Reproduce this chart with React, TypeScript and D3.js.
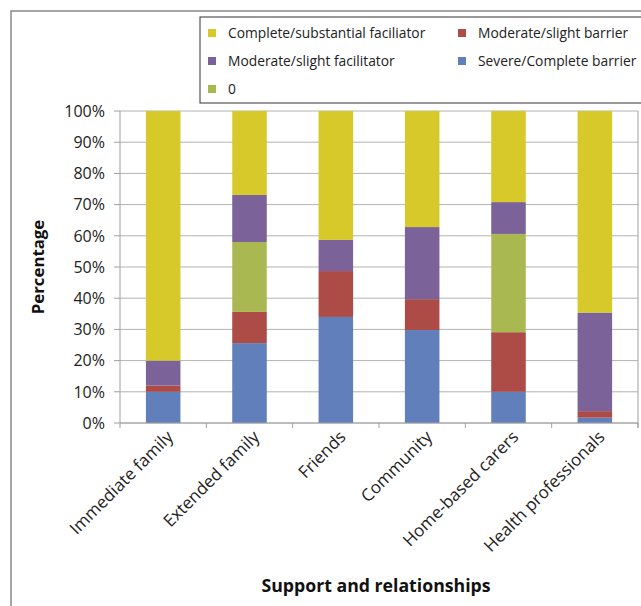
import React from "react";
import * as d3 from "d3";

const categories = [
  "Immediate family",
  "Extended family",
  "Friends",
  "Community",
  "Home-based carers",
  "Health professionals",
];

// stacked bottom -> top
const seriesNames = [
  "Severe/Complete barrier",
  "Moderate/slight barrier",
  "0",
  "Moderate/slight facilitator",
  "Complete/substantial faciliator",
];

const severeBarrier = [10.0, 25.6, 34.0, 29.8, 10.0, 1.7];
const moderateBarrier = [2.0, 10.0, 14.7, 9.9, 19.1, 2.1];
const zeroValues = [0, 22.4, 0, 0, 31.5, 0];
const moderateFacilitator = [8.0, 15.1, 10.0, 23.1, 10.2, 31.6];
const completeFacilitator = [80.0, 26.9, 41.3, 37.2, 29.2, 64.6];

const yTicks = [0, 10, 20, 30, 40, 50, 60, 70, 80, 90, 100];

const colors: Record<string, string> = {
  "Severe/Complete barrier": "#617FBA",
  "Moderate/slight barrier": "#AD4B47",
  "0": "#AAB852",
  "Moderate/slight facilitator": "#7B639A",
  "Complete/substantial faciliator": "#D8C92B",
};

const legendOrder = [
  ["Complete/substantial faciliator", "Moderate/slight barrier"],
  ["Moderate/slight facilitator", "Severe/Complete barrier"],
  ["0"],
];

export default function App() {
  const W = 641;
  const H = 606;
  const left = 120;
  const right = 638;
  const top = 111;
  const bottom = 423;
  const font = "'Open Sans', sans-serif";

  const x = d3.scaleBand<string>().domain(categories).range([left, right]).paddingInner(0.6).paddingOuter(0.3);
  const xOuter = d3.scaleBand<string>().domain(categories).range([left, right]);
  const y = d3.scaleLinear().domain([0, 100]).range([bottom, top]);

  const rows = categories.map((c, i) => ({
    cat: c,
    "Severe/Complete barrier": severeBarrier[i],
    "Moderate/slight barrier": moderateBarrier[i],
    "0": zeroValues[i],
    "Moderate/slight facilitator": moderateFacilitator[i],
    "Complete/substantial faciliator": completeFacilitator[i],
  }));
  const stack = d3.stack<any>().keys(seriesNames)(rows);

  const boundaries = categories.map((c) => xOuter(c)!).concat([right]);

  return (
    <svg width={W} height={H} style={{ position: "absolute", left: 0, top: 0 }} fontFamily={font}>
      <rect x={0} y={0} width={W} height={H} fill="#fff" />
      <rect x={11} y={11} width={W + 20} height={H + 20} fill="none" stroke="#888" strokeWidth={1.5} />
      {/* gridlines */}
      {yTicks.map((t) => (
        <line key={"g" + t} x1={left} x2={right} y1={y(t)} y2={y(t)} stroke="#b3b3b3" strokeWidth={1} />
      ))}
      {/* bars */}
      {stack.map((s) =>
        s.map((d, i) =>
          d[1] - d[0] > 0 ? (
            <rect
              key={s.key + i}
              x={x(categories[i])}
              width={x.bandwidth()}
              y={y(d[1])}
              height={y(d[0]) - y(d[1])}
              fill={colors[s.key]}
            />
          ) : null
        )
      )}
      {/* axes */}
      <line x1={left} x2={left} y1={top} y2={bottom} stroke="#a0a0a0" />
      <line x1={right} x2={right} y1={top} y2={bottom + 5} stroke="#a0a0a0" />
      <line x1={left} x2={right} y1={bottom} y2={bottom} stroke="#a0a0a0" />
      {yTicks.map((t) => (
        <g key={"yt" + t}>
          <line x1={left - 6} x2={left} y1={y(t)} y2={y(t)} stroke="#a0a0a0" />
          <text x={105} y={y(t)} dy="0.36em" textAnchor="end" fontSize={16} fill="#222">
            {t}%
          </text>
        </g>
      ))}
      {boundaries.map((b, i) => (
        <line key={"xt" + i} x1={b} x2={b} y1={bottom} y2={bottom + 5} stroke="#a0a0a0" />
      ))}
      {categories.map((c) => {
        const cx = x(c)! + x.bandwidth() / 2 + 11;
        const cy = 438;
        return (
          <text
            key={c}
            transform={`translate(${cx},${cy}) rotate(-45)`}
            textAnchor="end"
            fontSize={17}
            fill="#222"
          >
            {c}
          </text>
        );
      })}
      <text
        transform={`translate(44,${(top + bottom) / 2}) rotate(-90)`}
        textAnchor="middle"
        fontSize={16.8}
        fontWeight="bold"
        fill="#111"
      >
        Percentage
      </text>
      <text x={376} y={592} textAnchor="middle" fontSize={17.7} fontWeight="bold" fill="#111">
        Support and relationships
      </text>
      {/* legend */}
      <rect x={200} y={17} width={450} height={86} fill="#fff" stroke="#333" strokeWidth={1} />
      {legendOrder.map((row, ri) =>
        row.map((name, ci) => {
          const lx = ci === 0 ? 208 : 458;
          const ly = 33 + ri * 28;
          return (
            <g key={name}>
              <rect x={lx} y={ly - 4} width={8} height={8} fill={colors[name]} />
              <text x={lx + 20} y={ly} dy="0.36em" fontSize={13.8} fill="#222">
                {name}
              </text>
            </g>
          );
        })
      )}
    </svg>
  );
}
